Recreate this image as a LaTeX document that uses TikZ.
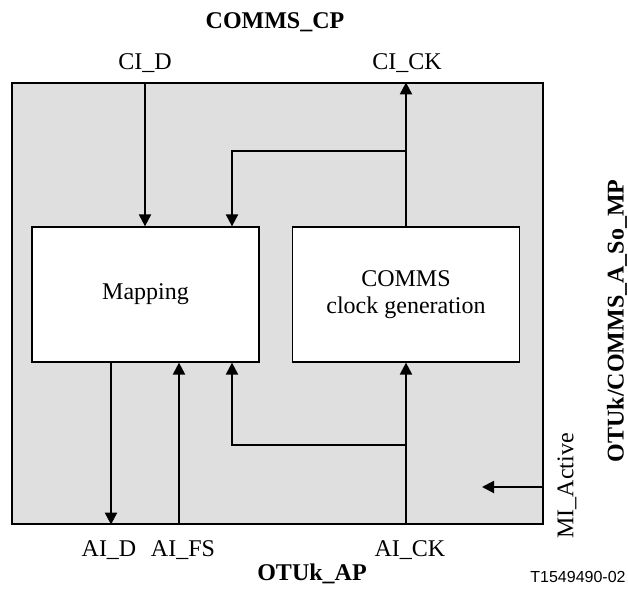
\documentclass[tikz,border=0pt]{standalone}
\usepackage{fontspec}
\setmainfont{Liberation Serif}
\newfontfamily\labelsans{Liberation Sans}
\usepackage{tikz}
\usetikzlibrary{arrows.meta, positioning, calc}
\definecolor{funcGrey}{RGB}{223, 223, 223}

\begin{document}
\begin{tikzpicture}[x=0.5pt, y=-0.5pt,
    blk/.style={draw, fill=white, line width=0.6pt, minimum width=113.5pt, minimum height=67.5pt, align=center, inner sep=0pt, font=\fontsize{12}{13.5}\selectfont},
    sig/.style={-{Triangle[length=6pt, width=6pt]}, line width=1pt},
    lbl/.style={font=\fontsize{12}{14}\selectfont, inner sep=0pt},
    port/.style={font=\fontsize{12}{14}\selectfont\bfseries, inner sep=0pt}]
    \useasboundingbox (0,0) rectangle (628,593);

    % Atomic function body
    \node[draw, fill=funcGrey, line width=0.6pt, minimum width=265.5pt, minimum height=220.5pt, inner sep=0pt] (fn) at (277.5,303.5) {};

    % Inner blocks
    \node[blk] (map) at (145.5,294.5) {Mapping};
    \node[blk] (clkgen) at (406,294.5) {COMMS\\clock generation};

    % Access point and port labels
    \node[port] (cp) at (275,22) {COMMS\_CP};
    \node[port] (ap) at (312,574) {OTUk\_AP};
    \node[port, rotate=90] (mp) at (617,321) {OTUk/COMMS\_A\_So\_MP};
    \node[lbl] (cid) at (145,63) {CI\_D};
    \node[lbl] (cick) at (407,63) {CI\_CK};
    \node[lbl] (aid) at (109,550) {AI\_D};
    \node[lbl] (aifs) at (183,550) {AI\_FS};
    \node[lbl] (aick) at (410,550) {AI\_CK};
    \node[lbl, rotate=90] (mia) at (567,486) {MI\_Active};
    \node[font=\labelsans\fontsize{8}{10}\selectfont, inner sep=0pt] (tag) at (578,577) {T1549490-02};

    % Signal routing
    \coordinate (fbtop) at (232,151);
    \coordinate (fbbot) at (232,445);
    \coordinate (aidx) at (111,0);
    \coordinate (aifsx) at (179,0);
    \coordinate (mitip) at (482,487);

    \draw[sig] (fn.north -| cid) -- (map.north -| cid);
    \draw[sig] (clkgen.north) -- (clkgen.north |- fn.north);
    \draw[sig] (clkgen.north |- fbtop) -- (fbtop) -- (map.north -| fbtop);
    \draw[sig] (clkgen.south |- fbbot) -- (fbbot) -- (map.south -| fbbot);
    \draw[sig] (clkgen.south |- fn.south) -- (clkgen.south);
    \draw[sig] (map.south -| aidx) -- (fn.south -| aidx);
    \draw[sig] (fn.south -| aifsx) -- (map.south -| aifsx);
    \draw[sig] (fn.east |- mitip) -- (mitip);
\end{tikzpicture}
\end{document}
